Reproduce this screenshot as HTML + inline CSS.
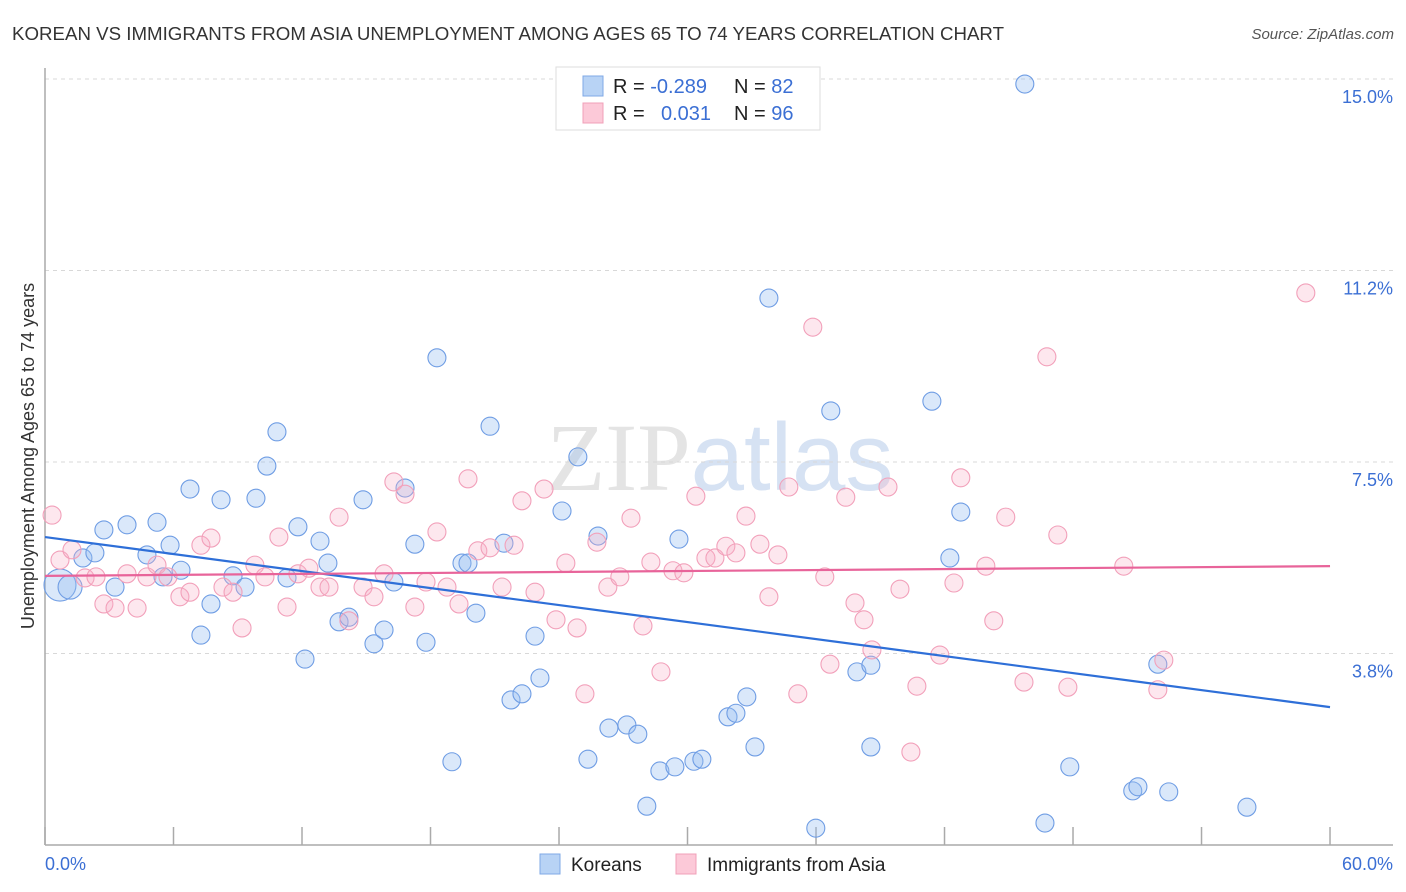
<!DOCTYPE html>
<html><head><meta charset="utf-8">
<style>
body{margin:0;background:#fff;font-family:"Liberation Sans",sans-serif;}
svg{display:block}
</style></head>
<body>
<svg id="chart" width="1406" height="892">
<text x="12" y="40" font-size="18" fill="#333" textLength="992" lengthAdjust="spacingAndGlyphs">KOREAN VS IMMIGRANTS FROM ASIA UNEMPLOYMENT AMONG AGES 65 TO 74 YEARS CORRELATION CHART</text>
<text x="1394" y="39" font-size="15" fill="#555" font-style="italic" text-anchor="end">Source: ZipAtlas.com</text>
<text x="720" y="490" font-size="96" fill="#e4e4e4" text-anchor="middle" font-family="Liberation Serif">ZIP<tspan font-family="Liberation Sans" fill="#d6e2f3">atlas</tspan></text>
<g id="grid"></g>
<g id="axes"></g>
<g id="pts"></g>
<g id="lines"></g>
<text transform="translate(34,456) rotate(-90)" font-size="18" fill="#333" text-anchor="middle">Unemployment Among Ages 65 to 74 years</text>
<text x="45" y="870" font-size="18" fill="#3b6fd4">0.0%</text>
<text x="1393" y="870" font-size="18" fill="#3b6fd4" text-anchor="end">60.0%</text>
<g>
<rect x="556" y="67" width="264" height="63" fill="#fff" stroke="#ddd"/>
<rect x="583" y="76" width="20" height="20" fill="#b8d3f5" stroke="#7fa8e6"/>
<rect x="583" y="103" width="20" height="20" fill="#fcc9d8" stroke="#f0a0b8"/>
<text x="613" y="93" font-size="20" fill="#222">R = <tspan fill="#3b6fd4">-0.289</tspan></text>
<text x="734" y="93" font-size="20" fill="#222">N = <tspan fill="#3b6fd4">82</tspan></text>
<text x="613" y="120" font-size="20" fill="#222">R = <tspan fill="#3b6fd4" x="661">0.031</tspan></text>
<text x="734" y="120" font-size="20" fill="#222">N = <tspan fill="#3b6fd4">96</tspan></text>
</g>
<g>
<rect x="540" y="854" width="20" height="20" fill="#b8d3f5" stroke="#7fa8e6"/>
<text x="571" y="871" font-size="19" fill="#222">Koreans</text>
<rect x="676" y="854" width="20" height="20" fill="#fcc9d8" stroke="#f0a0b8"/>
<text x="707" y="871" font-size="19" fill="#222">Immigrants from Asia</text>
</g>
</svg>
<script>
const yTicks=[15,11.25,7.5,3.75];
const yTickLabels=["15.0%","11.2%","7.5%","3.8%"];
const xTicks=[0,6,12,18,24,30,36,42,48,54,60];
const koreanX=[0.70,1.17,1.77,2.33,2.75,3.27,3.83,4.76,5.23,5.51,5.84,6.35,6.77,7.28,7.75,8.22,8.78,9.34,9.85,10.36,10.83,11.30,11.81,12.14,12.84,13.21,13.73,14.19,14.85,15.36,15.83,16.29,16.81,17.27,17.79,18.30,19.00,19.47,19.75,20.12,20.78,21.43,21.76,22.27,22.88,23.11,24.14,24.88,25.35,25.82,26.33,27.17,27.68,28.10,28.71,29.41,29.60,30.30,30.67,31.89,32.26,32.77,33.15,33.80,35.99,36.69,37.91,38.56,38.56,41.41,42.25,42.76,45.75,46.69,47.85,50.79,51.03,51.96,52.47,56.12];
const koreanY=[5.09,5.05,5.62,5.72,6.17,5.05,6.27,5.68,6.32,5.25,5.87,5.38,6.97,4.11,4.72,6.76,5.27,5.05,6.79,7.42,8.09,5.23,6.23,3.64,5.95,5.52,4.37,4.46,6.76,3.94,4.21,5.15,6.99,5.89,3.97,9.54,1.63,5.52,5.52,4.54,8.20,5.91,2.84,2.96,4.09,3.27,6.54,7.60,1.68,6.05,2.29,2.35,2.17,0.76,1.45,1.53,5.99,1.64,1.68,2.51,2.58,2.90,1.92,10.71,0.33,8.50,3.39,3.52,1.92,8.69,5.62,6.52,14.90,0.43,1.53,1.06,1.14,3.54,1.04,0.74];
const koreanR=[16,12];
const asiaX=[0.33,0.70,1.26,1.87,2.38,2.75,3.27,3.83,4.30,4.76,5.23,5.74,6.30,6.77,7.28,7.75,8.31,8.78,9.20,9.80,10.27,10.92,11.30,11.81,12.32,12.84,13.26,13.73,14.19,14.85,15.36,15.83,16.29,16.81,17.27,17.79,18.30,18.77,19.33,19.75,20.21,20.78,21.34,21.90,22.27,22.88,23.30,23.86,24.32,24.84,25.21,25.77,26.28,26.84,27.36,27.92,28.29,28.76,29.32,29.83,30.39,30.86,31.28,31.79,32.26,32.73,33.38,33.80,34.22,34.73,35.15,35.85,36.41,36.65,37.39,37.82,38.24,38.61,39.36,39.92,40.43,40.71,41.78,42.44,42.76,43.93,44.30,44.86,45.71,46.78,47.29,47.76,50.37,51.96,52.24,58.87];
const asiaY=[6.46,5.58,5.78,5.23,5.25,4.72,4.64,5.31,4.64,5.25,5.48,5.25,4.86,4.95,5.87,6.01,5.05,4.95,4.25,5.48,5.25,6.03,4.66,5.31,5.42,5.05,5.05,6.42,4.39,5.05,4.86,5.31,7.11,6.87,4.66,5.15,6.13,5.05,4.72,7.17,5.76,5.82,5.05,5.87,6.74,4.95,6.97,4.41,5.52,4.25,2.96,5.93,5.05,5.25,6.40,4.29,5.54,3.39,5.37,5.33,6.83,5.62,5.62,5.85,5.72,6.44,5.89,4.86,5.68,7.01,2.96,10.14,5.25,3.54,6.81,4.74,4.41,3.82,7.01,5.01,1.82,3.11,3.72,5.13,7.19,5.46,4.39,6.42,3.19,9.56,6.07,3.09,5.46,3.04,3.62,10.81];
const koreanTrend=[6.03,2.70];
const asiaTrend=[5.27,5.46];
const X=v=>45+v*21.417, Y=v=>845-v*51.07;
const NS="http://www.w3.org/2000/svg";
function mk(p,t,a){const e=document.createElementNS(NS,t);for(const k in a)e.setAttribute(k,a[k]);p.appendChild(e);return e;}
const grid=document.getElementById('grid'),axes=document.getElementById('axes'),pts=document.getElementById('pts'),lines=document.getElementById('lines');
yTicks.forEach((t,i)=>{
 const l=mk(grid,'line',{x1:45,x2:1393,y1:Y(t),y2:Y(t),stroke:'#d8d8d8','stroke-dasharray':'4,4'});
 
 
 const tx=mk(grid,'text',{x:1393,y:Y(t)+24,'font-size':18,fill:'#3b6fd4','text-anchor':'end'});
 tx.textContent=yTickLabels[i];
 
 
});
const ax=mk(axes,'line',{x1:45,x2:45,y1:68,y2:845,stroke:'#aaa','stroke-width':1.5});


const bx=mk(axes,'line',{x1:45,x2:1393,y1:845,y2:845,stroke:'#aaa','stroke-width':1.5});


xTicks.forEach(t=>{
 const l=mk(axes,'line',{x1:X(t),x2:X(t),y1:827,y2:845,stroke:'#aaa','stroke-width':1.5});
 
 
});
koreanX.forEach((v,i)=>{
 const c=mk(pts,'circle',{cx:X(v),cy:Y(koreanY[i]),r:koreanR[i]||9,fill:'rgba(150,188,240,0.35)',stroke:'#6f9de4','stroke-width':1.1});
 
 
});
asiaX.forEach((v,i)=>{
 const c=mk(pts,'circle',{cx:X(v),cy:Y(asiaY[i]),r:9,fill:'rgba(248,175,198,0.3)',stroke:'#f2a0ba','stroke-width':1.1});
 
 
});
const kl=mk(lines,'line',{x1:X(0),x2:X(60),y1:Y(koreanTrend[0]),y2:Y(koreanTrend[1]),stroke:'#2e6fd8','stroke-width':2.2});


const al=mk(lines,'line',{x1:X(0),x2:X(60),y1:Y(asiaTrend[0]),y2:Y(asiaTrend[1]),stroke:'#e8649a','stroke-width':2.2});


</script>
</body></html>
